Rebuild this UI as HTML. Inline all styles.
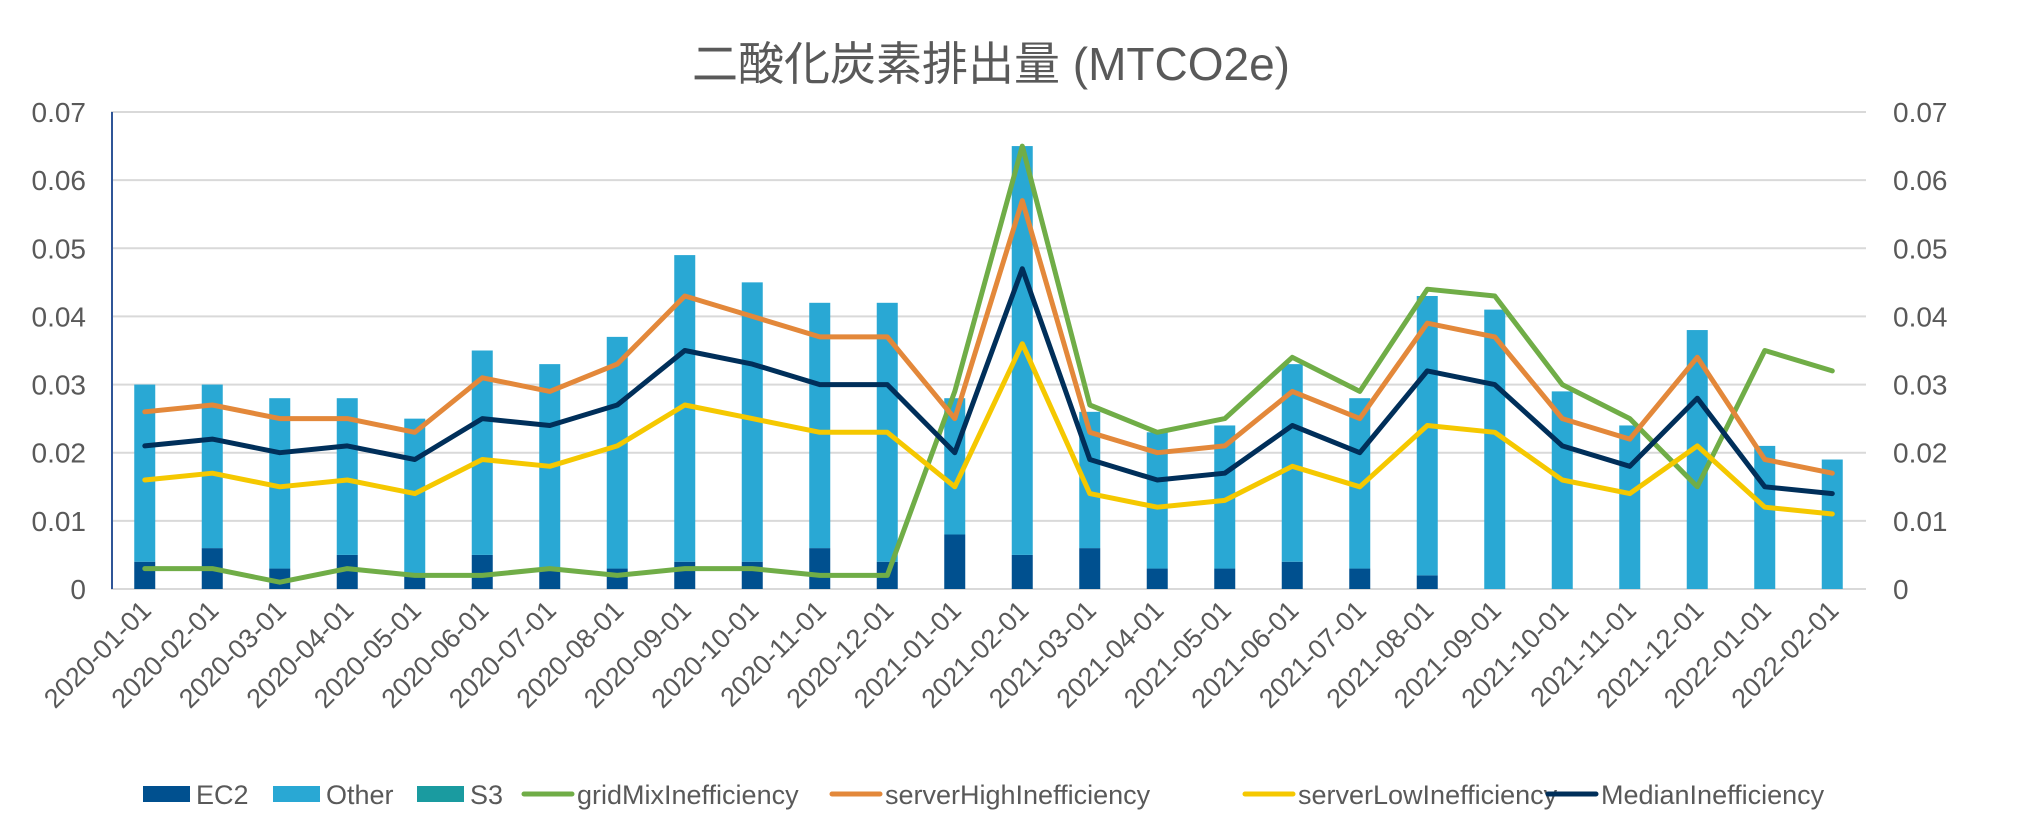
<!DOCTYPE html>
<html><head><meta charset="utf-8"><style>
html,body{margin:0;padding:0;background:#fff;}
svg{display:block;font-family:"Liberation Sans","Noto Sans CJK JP",sans-serif;}
</style></head><body>
<svg id="chart" width="2029" height="827" viewBox="0 0 2029 827" xmlns="http://www.w3.org/2000/svg">
<text x="991" y="80" font-size="46" fill="#595959" text-anchor="middle">二酸化炭素排出量 (MTCO2e)</text>
<g id="grid"></g><g id="bars"></g><g id="lines"></g><g id="axes"></g><g id="legend"></g>
</svg>
<script>
const categories=["2020-01-01","2020-02-01","2020-03-01","2020-04-01","2020-05-01","2020-06-01","2020-07-01","2020-08-01","2020-09-01","2020-10-01","2020-11-01","2020-12-01","2021-01-01","2021-02-01","2021-03-01","2021-04-01","2021-05-01","2021-06-01","2021-07-01","2021-08-01","2021-09-01","2021-10-01","2021-11-01","2021-12-01","2022-01-01","2022-02-01"];
const ec2=[0.004,0.006,0.003,0.005,0.002,0.005,0.003,0.003,0.004,0.004,0.006,0.004,0.008,0.005,0.006,0.003,0.003,0.004,0.003,0.002,0,0,0,0,0,0];
const other=[0.026,0.024,0.025,0.023,0.023,0.030,0.030,0.034,0.045,0.041,0.036,0.038,0.020,0.060,0.020,0.020,0.021,0.029,0.025,0.041,0.041,0.029,0.024,0.038,0.021,0.019];
const s3=[0,0,0,0,0,0,0,0,0,0,0,0,0,0,0,0,0,0,0,0,0,0,0,0,0,0];
const gridMix=[0.003,0.003,0.001,0.003,0.002,0.002,0.003,0.002,0.003,0.003,0.002,0.002,0.029,0.065,0.027,0.023,0.025,0.034,0.029,0.044,0.043,0.030,0.025,0.015,0.035,0.032];
const serverHigh=[0.026,0.027,0.025,0.025,0.023,0.031,0.029,0.033,0.043,0.040,0.037,0.037,0.025,0.057,0.023,0.020,0.021,0.029,0.025,0.039,0.037,0.025,0.022,0.034,0.019,0.017];
const serverLow=[0.016,0.017,0.015,0.016,0.014,0.019,0.018,0.021,0.027,0.025,0.023,0.023,0.015,0.036,0.014,0.012,0.013,0.018,0.015,0.024,0.023,0.016,0.014,0.021,0.012,0.011];
const median=[0.021,0.022,0.020,0.021,0.019,0.025,0.024,0.027,0.035,0.033,0.030,0.030,0.020,0.047,0.019,0.016,0.017,0.024,0.020,0.032,0.030,0.021,0.018,0.028,0.015,0.014];
const yTicks=["0","0.01","0.02","0.03","0.04","0.05","0.06","0.07"];

const NS="http://www.w3.org/2000/svg";
const L=111,R=1866,T=112,B=589,YMAX=0.07;
const band=(R-L)/categories.length;
function xC(i){return L+band*(i+0.5);}
function yS(v){return B-(v/YMAX)*(B-T);}
function mk(tag,attrs,parent){const e=document.createElementNS(NS,tag);for(const k in attrs)e.setAttribute(k,attrs[k]);parent.appendChild(e);return e;}
const gG=document.getElementById('grid'),gB=document.getElementById('bars'),gL=document.getElementById('lines'),gA=document.getElementById('axes'),gLe=document.getElementById('legend');

yTicks.forEach(t=>{
  const v=parseFloat(t),y=yS(v);
  const ln=mk('line',{x1:L,x2:R,y1:y,y2:y,stroke:'#d9d9d9','stroke-width':2},gG);
  
  
  const a=mk('text',{x:86,y:y+10,'font-size':28,fill:'#595959','text-anchor':'end'},gA);
  a.textContent=t;
  
  
  const b=mk('text',{x:1893,y:y+10,'font-size':28,fill:'#595959','text-anchor':'start'},gA);
  b.textContent=t;
  
  
});
const ax=mk('line',{x1:L+1,x2:L+1,y1:T,y2:B,stroke:'#2f5597','stroke-width':2},gA);



const bw=21;
categories.forEach((c,i)=>{
  const x=xC(i)-bw/2;
  const y0=yS(0),y1=yS(ec2[i]),y2=yS(ec2[i]+other[i]),y3=yS(ec2[i]+other[i]+s3[i]);
  const r1=mk('rect',{x:x,y:y1,width:bw,height:y0-y1,fill:'#00508f'},gB);
  
  
  const r2=mk('rect',{x:x,y:y2,width:bw,height:y1-y2,fill:'#29a8d4'},gB);
  
  
  const r3=mk('rect',{x:x,y:y3,width:bw,height:y2-y3,fill:'#1a9ba0'},gB);
  
  
  const cx=xC(i)+8,cy=612;
  const t=mk('text',{x:cx,y:cy,'font-size':27,fill:'#595959','text-anchor':'end',transform:`rotate(-45 ${cx} ${cy})`},gA);
  t.textContent=c;
  
  
});

const series=[[gridMix,'#70ad47','line-gridmix'],[serverHigh,'#e3883a','line-server-high'],[serverLow,'#f5c800','line-server-low'],[median,'#002f5a','line-median']];
series.forEach(([d,col,name])=>{
  const pts=d.map((v,i)=>xC(i).toFixed(1)+','+yS(v).toFixed(1)).join(' ');
  const p=mk('polyline',{points:pts,fill:'none',stroke:col,'stroke-width':5,'stroke-linejoin':'round','stroke-linecap':'round'},gL);
  
  
});

const leg=[['EC2','#00508f','rect',143],['Other','#29a8d4','rect',273],['S3','#1a9ba0','rect',417],['gridMixInefficiency','#70ad47','line',524],['serverHighInefficiency','#e3883a','line',832],['serverLowInefficiency','#f5c800','line',1245],['MedianInefficiency','#002f5a','line',1548]];
leg.forEach(([lab,col,type,x])=>{
  const g=mk('g',{},gLe);
  
  
  if(type==='rect'){mk('rect',{x:x,y:786,width:47,height:16,fill:col},g);}
  else{mk('line',{x1:x,x2:x+48,y1:794,y2:794,stroke:col,'stroke-width':5,'stroke-linecap':'round'},g);}
  const t=mk('text',{x:x+53,y:804,'font-size':27,fill:'#595959'},g);
  t.textContent=lab;
});
</script>
</body></html>
